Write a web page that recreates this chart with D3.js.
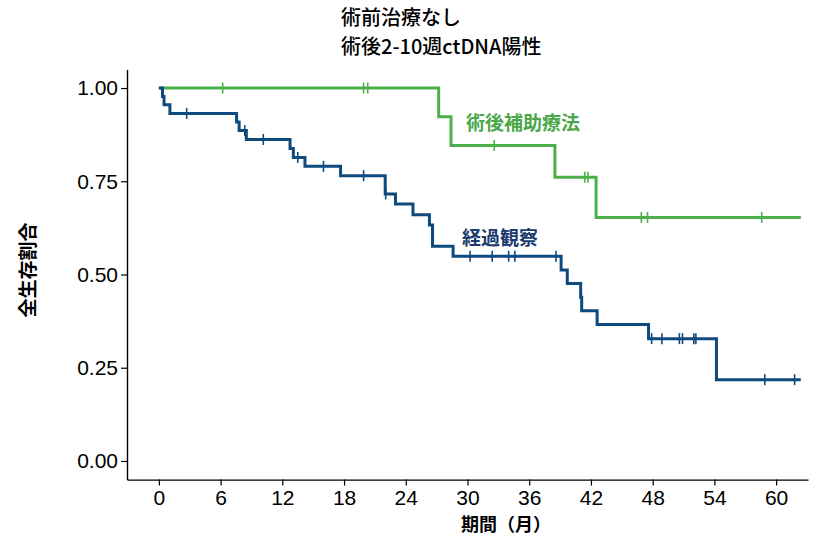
<!DOCTYPE html>
<html>
<head>
<meta charset="utf-8">
<script src="https://cdn.jsdelivr.net/npm/d3@7"></script>
<style>
  body { margin: 0; background: #fff; }
  text { font-family: "Liberation Sans", Arial, "Noto Sans CJK JP", sans-serif; }
  .cjk { font-family: "Noto Sans CJK JP", sans-serif; }
</style>
</head>
<body>
<div id="chart"></div>
<script>
// 術後補助療法 (green) : step times and survival after each step
var adjTimes = [0, 27.2, 28.4, 38.5, 42.5, 62.4];
var adjSurv = [1.0, 0.923, 0.846, 0.761, 0.653, 0.653];
var adjCensor = [6.2, 19.9, 20.3, 32.6, 41.4, 41.7, 46.9, 47.5, 58.6];

// 経過観察 (blue)
var obsTimes = [0, 0.35, 0.5, 1.07, 7.55, 7.8, 8.5, 12.75, 13.07, 14.2, 17.66, 22.0, 23.0, 24.7, 26.3, 26.6, 28.6,
  39.1, 39.7, 41.0, 41.1, 42.6, 47.6, 54.2, 62.4];
var obsSurv = [1.0, 0.977, 0.955, 0.932, 0.909, 0.886, 0.862, 0.838, 0.814, 0.790, 0.765, 0.716, 0.689, 0.660, 0.633, 0.576, 0.549,
  0.512, 0.476, 0.439, 0.403, 0.366, 0.328, 0.218, 0.218];
var obsCensor = [2.7, 8.35, 10.15, 13.5, 16.0, 19.9, 22.05, 30.25, 32.4, 34.0, 34.6, 38.6,
  47.9, 48.9, 50.6, 50.9, 52.0, 52.2, 58.9, 61.8];

var xTicks = [0, 6, 12, 18, 24, 30, 36, 42, 48, 54, 60];
var yTicks = [0, 0.25, 0.5, 0.75, 1.0];

var width = 816, height = 547;
var green = "#4daf4a", blue = "#0f4a7e";

var svg = d3.select("#chart").append("svg")
  .attr("width", width)
  .attr("height", height);

var x = d3.scaleLinear().domain([-3.1, 63.1]).range([127, 808]);
var y = d3.scaleLinear().domain([-0.05, 1.05]).range([479.6, 69.4]);

// axes
var xAxis = svg.append("g")
  .attr("transform", "translate(0," + 479.6 + ")")
  .call(d3.axisBottom(x).tickValues(xTicks).tickSize(6).tickSizeOuter(0).tickPadding(4));
var yAxis = svg.append("g")
  .attr("transform", "translate(" + 127 + ",0)")
  .call(d3.axisLeft(y).tickValues(yTicks).tickSize(6).tickSizeOuter(0).tickPadding(3)
    .tickFormat(d3.format(".2f")));

[xAxis, yAxis].forEach(function(a) {
  a.select(".domain").attr("stroke", "#000").attr("stroke-width", 1.4);
  a.selectAll(".tick line").attr("stroke", "#000").attr("stroke-width", 1.2);
  a.selectAll(".tick text")
    .attr("fill", "#000")
    .attr("font-size", 21)
    .attr("font-family", "'Liberation Sans', Arial, sans-serif");
});

// step lines
function drawCurve(times, surv, censor, color) {
  var pts = times.map(function(t, i) { return [t, surv[i]]; });
  var line = d3.line()
    .x(function(d) { return x(d[0]); })
    .y(function(d) { return y(d[1]); })
    .curve(d3.curveStepAfter);
  svg.append("path")
    .datum(pts)
    .attr("fill", "none")
    .attr("stroke", color)
    .attr("stroke-width", 3)
    .attr("d", line);

  // censor marks
  svg.append("g")
    .selectAll("line")
    .data(censor)
    .enter()
    .append("line")
    .attr("x1", function(d) { return x(d); })
    .attr("x2", function(d) { return x(d); })
    .attr("y1", function(d) { return y(surv[d3.bisectRight(times, d) - 1]) - 5.5; })
    .attr("y2", function(d) { return y(surv[d3.bisectRight(times, d) - 1]) + 5.5; })
    .attr("stroke", color)
    .attr("stroke-width", 1.6);
}

drawCurve(adjTimes, adjSurv, adjCensor, green);
drawCurve(obsTimes, obsSurv, obsCensor, blue);

// curve labels
svg.append("text")
  .attr("class", "cjk")
  .attr("x", 466).attr("y", 130)
  .attr("font-size", 19).attr("font-weight", "bold")
  .attr("fill", "#4aa84a")
  .text("術後補助療法");
svg.append("text")
  .attr("class", "cjk")
  .attr("x", 462).attr("y", 245)
  .attr("font-size", 19).attr("font-weight", "bold")
  .attr("fill", "#1b3a6e")
  .text("経過観察");

// title
svg.append("text")
  .attr("class", "cjk")
  .attr("x", 341).attr("y", 25)
  .attr("font-size", 20).attr("font-weight", 500)
  .attr("fill", "#000")
  .text("術前治療なし");
svg.append("text")
  .attr("class", "cjk")
  .attr("x", 341).attr("y", 54)
  .attr("font-size", 20).attr("font-weight", 500)
  .attr("fill", "#000")
  .text("術後2-10週ctDNA陽性");

// axis titles
svg.append("text")
  .attr("class", "cjk")
  .attr("x", 506).attr("y", 531)
  .attr("text-anchor", "middle")
  .attr("font-size", 18).attr("font-weight", "bold")
  .attr("fill", "#000")
  .text("期間（月）");
svg.append("text")
  .attr("class", "cjk")
  .attr("transform", "translate(35,270) rotate(-90)")
  .attr("text-anchor", "middle")
  .attr("font-size", 19).attr("font-weight", "bold")
  .attr("fill", "#000")
  .text("全生存割合");
</script>
</body>
</html>
